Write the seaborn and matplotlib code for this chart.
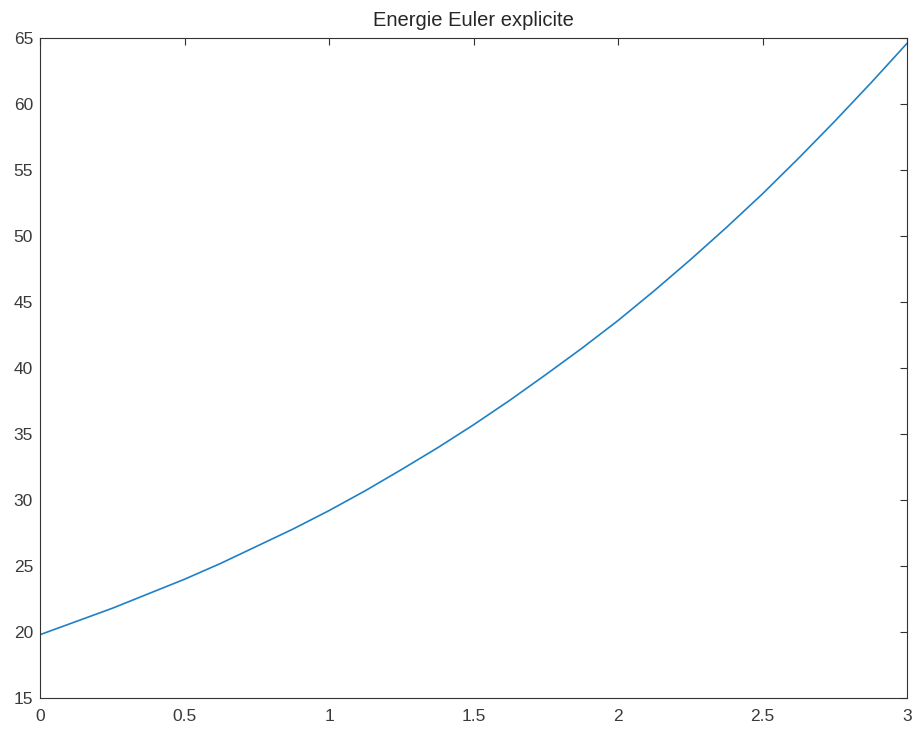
import matplotlib
matplotlib.use('Agg')
import matplotlib.pyplot as plt
import seaborn as sns
import pandas as pd

# values
temps = [0, 0.125, 0.25, 0.375, 0.5, 0.625, 0.75, 0.875, 1.0, 1.125, 1.25, 1.375,
         1.5, 1.625, 1.75, 1.875, 2.0, 2.125, 2.25, 2.375, 2.5, 2.625, 2.75, 2.875, 3.0]
energie = [19.8, 20.8, 21.8, 22.9, 24.0, 25.2, 26.5, 27.8, 29.2, 30.7, 32.3, 33.95,
           35.7, 37.55, 39.5, 41.5, 43.6, 45.85, 48.2, 50.65, 53.2, 55.9, 58.7, 61.6, 64.6]

x_ticks = [0, 0.5, 1, 1.5, 2, 2.5, 3]
x_labels = ['0', '0.5', '1', '1.5', '2', '2.5', '3']
y_ticks = [15, 20, 25, 30, 35, 40, 45, 50, 55, 60, 65]

sns.set_style('white')
plt.rcParams['font.family'] = ['Liberation Sans', 'DejaVu Sans']

df = pd.DataFrame({'t': temps, 'E': energie})

fig = plt.figure(figsize=(9.16, 7.32), dpi=100)
ax = fig.add_axes([0.0437, 0.0464, 0.9465, 0.9016])
sns.lineplot(data=df, x='t', y='E', ax=ax, color='#1f80c6', linewidth=1.2)

ax.set_xlim(0, 3)
ax.set_ylim(15, 65)
ax.set_xticks(x_ticks)
ax.set_xticklabels(x_labels)
ax.set_yticks(y_ticks)
ax.set_xlabel('')
ax.set_ylabel('')
ax.set_title('Energie Euler explicite', fontsize=14.5, color='#262626', pad=9)

for s in ax.spines.values():
    s.set_color('#333333')
    s.set_linewidth(0.8)
ax.tick_params(direction='in', length=5, width=0.8, colors='#333333',
               labelsize=12.5, labelcolor='#3a3a3a', top=True, right=True)
ax.tick_params(axis='x', pad=8)
ax.tick_params(axis='y', pad=5)

fig.savefig('out.png', dpi=100)
plt.close(fig)
